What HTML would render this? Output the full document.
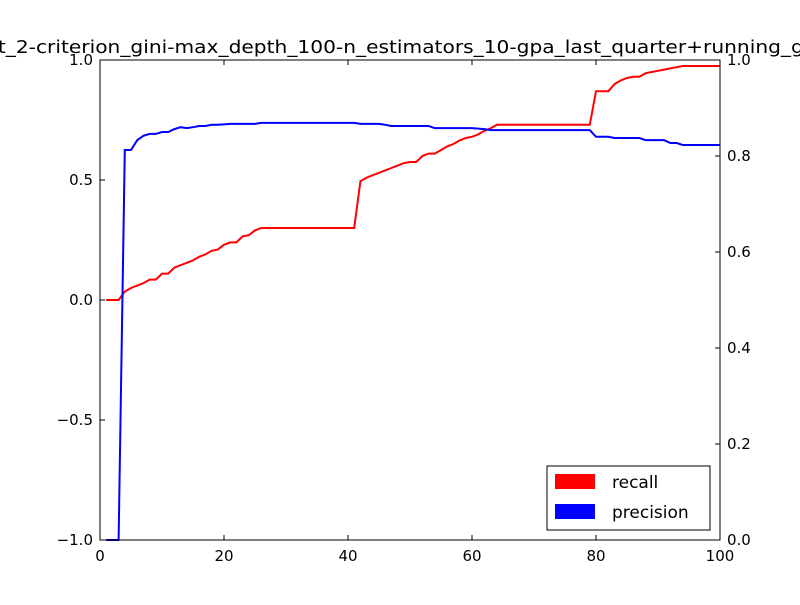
<!DOCTYPE html>
<html><head><meta charset="utf-8"><style>
html,body{margin:0;padding:0;background:#fff;overflow:hidden}
svg{font-family:"DejaVu Sans","Liberation Sans",sans-serif}
</style></head><body>
<svg id="chart" width="800" height="600" viewBox="0 0 800 600">
<rect width="800" height="600" fill="#fff"/>
<text x="398" y="53" font-size="18" text-anchor="middle" textLength="862" lengthAdjust="spacingAndGlyphs">test_2-criterion_gini-max_depth_100-n_estimators_10-gpa_last_quarter+running_gpa</text>
<g id="marks"></g>
<rect x="100" y="60" width="620" height="480" fill="none" stroke="#000" stroke-width="1"/>
<g id="axes"></g>
<g>
<rect x="547" y="466" width="163" height="64" fill="#fff" stroke="#000"/>
<rect x="555" y="474" width="40" height="15" fill="#ff0000"/>
<text x="612" y="488" font-size="17">recall</text>
<rect x="555" y="504" width="40" height="15" fill="#0000ff"/>
<text x="612" y="518" font-size="17">precision</text>
</g>
</svg>
<script>
const xValues = Array.from({length:100},(_,i)=>i+1);
const recall = [0,0,0,0.035,0.05,0.06,0.07,0.085,0.085,0.11,0.11,0.135,0.145,0.155,0.165,0.18,0.19,0.205,0.21,0.23,0.24,0.24,0.265,0.27,0.29,0.3,0.3,0.3,0.3,0.3,0.3,0.3,0.3,0.3,0.3,0.3,0.3,0.3,0.3,0.3,0.3,0.495,0.51,0.52,0.53,0.54,0.55,0.56,0.57,0.575,0.575,0.6,0.61,0.61,0.625,0.64,0.65,0.665,0.675,0.68,0.69,0.705,0.715,0.73,0.73,0.73,0.73,0.73,0.73,0.73,0.73,0.73,0.73,0.73,0.73,0.73,0.73,0.73,0.73,0.87,0.87,0.87,0.9,0.915,0.925,0.93,0.93,0.945,0.95,0.955,0.96,0.965,0.97,0.975,0.975,0.975,0.975,0.975,0.975,0.975];
const precision = [0,0,0,0.8125,0.8125,0.833,0.842,0.846,0.846,0.85,0.85,0.856,0.86,0.858,0.86,0.8625,0.8625,0.865,0.865,0.866,0.867,0.867,0.867,0.867,0.867,0.869,0.869,0.869,0.869,0.869,0.869,0.869,0.869,0.869,0.869,0.869,0.869,0.869,0.869,0.869,0.869,0.867,0.867,0.867,0.867,0.865,0.8625,0.8625,0.8625,0.8625,0.8625,0.8625,0.8625,0.858,0.858,0.858,0.858,0.858,0.858,0.858,0.857,0.856,0.854,0.854,0.854,0.854,0.854,0.854,0.854,0.854,0.854,0.854,0.854,0.854,0.854,0.854,0.854,0.854,0.854,0.84,0.84,0.84,0.8375,0.8375,0.8375,0.8375,0.8375,0.833,0.833,0.833,0.833,0.827,0.827,0.823,0.823,0.823,0.823,0.823,0.823,0.823];
const xTicks = [0,20,40,60,80,100];
const yLeftTicks = [-1,-0.5,0,0.5,1];
const yLeftLabels = ["\u22121.0","\u22120.5","0.0","0.5","1.0"];
const yRightTicks = [0,0.2,0.4,0.6,0.8,1];
const yRightLabels = ["0.0","0.2","0.4","0.6","0.8","1.0"];

const X0=100,X1=720,Y0=60,Y1=540;
const sx=v=>X0+(v/100)*(X1-X0);
const syL=v=>Y1-((v+1)/2)*(Y1-Y0);
const syR=v=>Y1-v*(Y1-Y0);
const NS="http://www.w3.org/2000/svg";
const marks=document.getElementById('marks'), axes=document.getElementById('axes');
function mk(tag,attrs,parent){const e=document.createElementNS(NS,tag);for(const k in attrs)e.setAttribute(k,attrs[k]);parent.appendChild(e);return e;}

const rl=mk('polyline',{points:xValues.map((x,i)=>sx(x)+','+syL(recall[i])).join(' '),fill:'none',stroke:'#ff0000','stroke-width':2},marks);


const pl=mk('polyline',{points:xValues.map((x,i)=>sx(x)+','+syR(precision[i])).join(' '),fill:'none',stroke:'#0000ff','stroke-width':2},marks);



xTicks.forEach(t=>{
  const x=sx(t);
  const a=mk('line',{x1:x,x2:x,y1:Y1,y2:Y1-5,stroke:'#000'},axes);
  
  
  const b=mk('line',{x1:x,x2:x,y1:Y0,y2:Y0+5,stroke:'#000'},axes);
  
  
  const tx=mk('text',{x:x,y:Y1+21,'font-size':15,'text-anchor':'middle'},axes);
  tx.textContent=String(t);
  
  
});
yLeftTicks.forEach((t,i)=>{
  const y=syL(t);
  const a=mk('line',{x1:X0,x2:X0+5,y1:y,y2:y,stroke:'#000'},axes);
  
  
  const tx=mk('text',{x:X0-7,y:y+5,'font-size':15,'text-anchor':'end'},axes);
  tx.textContent=yLeftLabels[i];
  
  
});
yRightTicks.forEach((t,i)=>{
  const y=syR(t);
  const a=mk('line',{x1:X1-5,x2:X1,y1:y,y2:y,stroke:'#000'},axes);
  
  
  const tx=mk('text',{x:X1+7,y:y+5,'font-size':15,'text-anchor':'start'},axes);
  tx.textContent=yRightLabels[i];
  
  
});
</script>
</body></html>
